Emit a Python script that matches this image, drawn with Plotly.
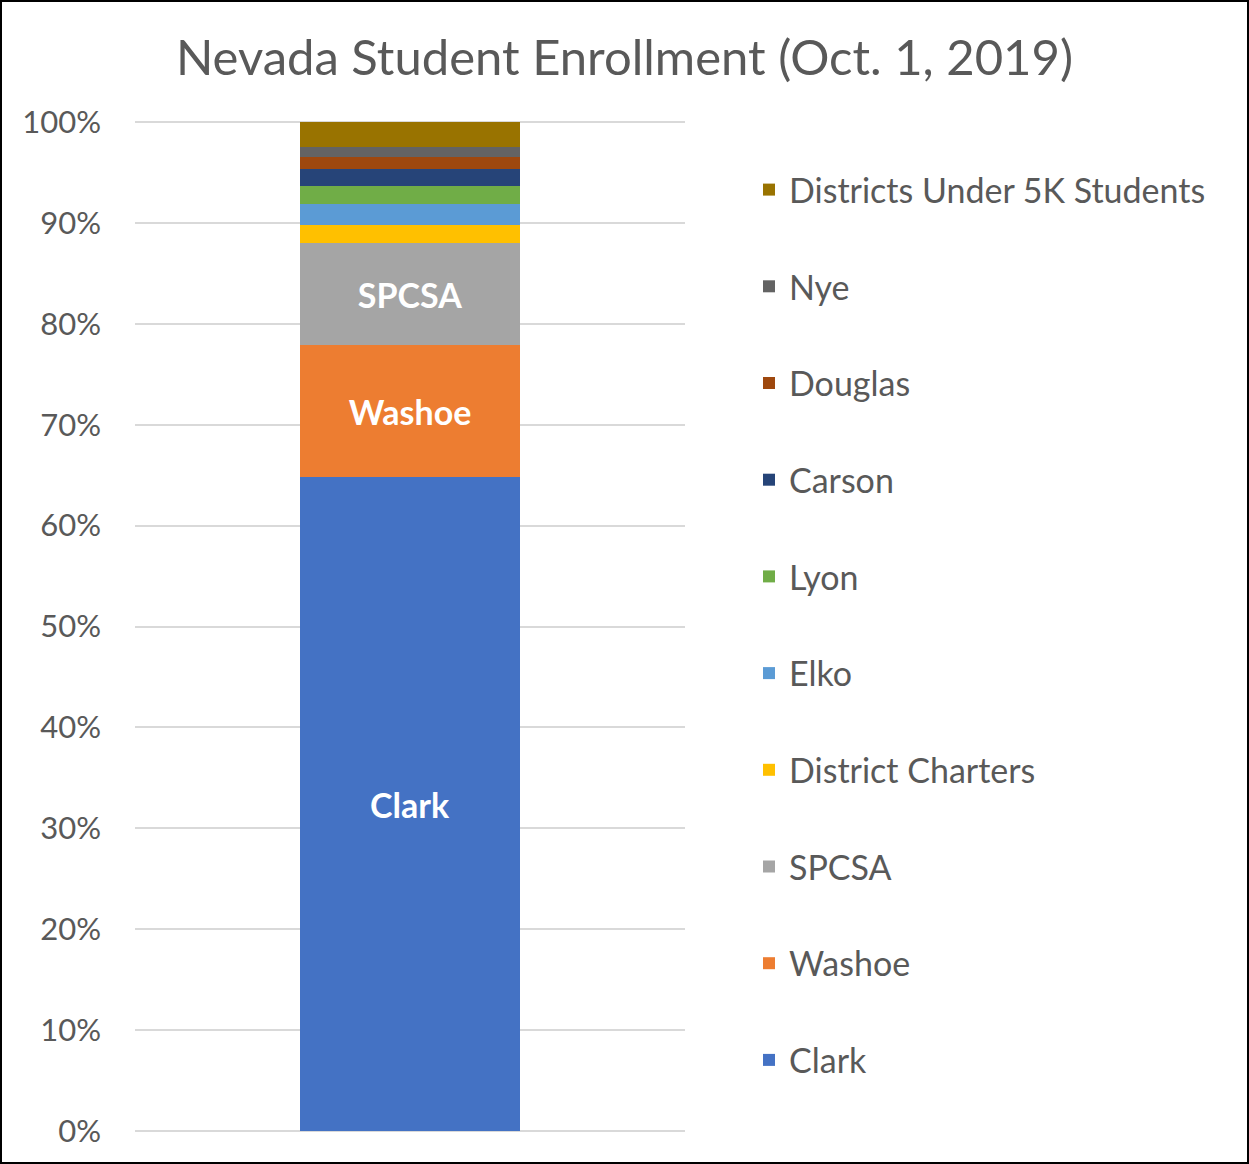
import plotly.graph_objects as go

categories = ["Clark", "Washoe", "SPCSA", "District Charters", "Elko", "Lyon",
              "Carson", "Douglas", "Nye", "Districts Under 5K Students"]
shares = [64.8, 13.1, 10.1, 1.8, 2.1, 1.8, 1.6, 1.2, 1.0, 2.5]
colors = ["#4472C4", "#ED7D31", "#A5A5A5", "#FFC000", "#5B9BD5", "#70AD47",
          "#264478", "#9E480E", "#636363", "#997300"]
inside_labels = ["Clark", "Washoe", "SPCSA", "", "", "", "", "", "", ""]
y_ticks = [0, 10, 20, 30, 40, 50, 60, 70, 80, 90, 100]
y_tick_labels = [f"{v}%" for v in y_ticks]

FONT = "Lato"
W, H = 1249, 1164
ml, mr, mt, mb = 135, W - 685, 120, H - 1133
pw, ph = W - ml - mr, H - mt - mb
pad = 0.2

fig = go.Figure()
n = len(categories)
for i, (cat, val, col, lab) in enumerate(zip(categories, shares, colors, inside_labels)):
    fig.add_trace(go.Bar(
        x=[""], y=[val], name=cat, marker=dict(color=col, line=dict(width=0)),
        text=[lab] if lab else None, textposition="inside" if lab else "none",
        insidetextanchor="middle",
        textfont=dict(family=FONT, size=34, color="white", weight="bold"),
        hovertemplate=cat + ": %{y:.1f}%<extra></extra>",
        legendgroup=cat, legendrank=n - i,
    ))

fig.update_layout(
    width=W, height=H,
    barmode="stack", bargap=0.6,
    paper_bgcolor="white", plot_bgcolor="white",
    margin=dict(l=ml, r=mr, t=mt, b=mb),
    font=dict(family=FONT, color="#595959"),
    title=dict(text="Nevada Student Enrollment (Oct. 1, 2019)", x=0.5, xref="container",
               xanchor="center", y=1 - 58 / H, yref="container", yanchor="middle",
               font=dict(family=FONT, size=49, color="#595959")),
    uniformtext=dict(minsize=34, mode="show"),
    legend=dict(x=(749 - ml) / pw, xanchor="left", y=(H - 161 - mb) / ph,
                yanchor="top", traceorder="grouped", tracegroupgap=49.5,
                font=dict(family=FONT, size=34, color="#595959"),
                itemwidth=30, bgcolor="rgba(0,0,0,0)"),
    showlegend=True,
)
fig.update_xaxes(showticklabels=False, showgrid=False, zeroline=False, showline=False)
fig.update_yaxes(range=[-pad, 100 + pad], tickvals=y_ticks, ticktext=y_tick_labels,
                 showgrid=True, gridcolor="#D9D9D9", gridwidth=1.5,
                 zeroline=False, showline=False, ticks="",
                 ticklabelstandoff=33,
                 tickfont=dict(family=FONT, size=31, color="#595959"))

fig.add_shape(type="rect", xref="paper", yref="paper",
              x0=(-ml + 1) / pw, x1=(W - ml - 1) / pw,
              y0=(-mb + 1) / ph, y1=(H - mb - 1) / ph,
              line=dict(color="black", width=2), fillcolor="rgba(0,0,0,0)", layer="above")

fig.write_html("out.html", config={"displayModeBar": False},
               post_script="document.body.style.margin='0px';")
